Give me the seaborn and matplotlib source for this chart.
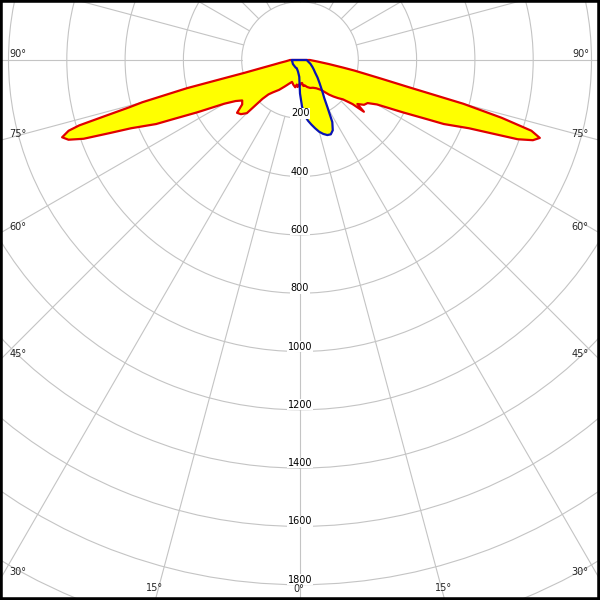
import numpy as np
import matplotlib
matplotlib.use("Agg")
import matplotlib.pyplot as plt
import seaborn as sns
from matplotlib.patches import Rectangle

# ---- data (candela values) ----
c0_angles = [-90, -85, -82, -80, -79, -78, -77, -76.5, -76, -75, -74.5, -74, -73.5, -73, -72,
             -71, -70, -69, -68, -66, -65, -63, -60, -57.5, -55, -52.5, -50, -47.5, -45, -44,
             -42.5, -40, -35, -30, -27.5, -25, -20, -15, -10, -7.5, -5, -2.5, 0, 2.5, 5, 7.5,
             10, 15, 20, 25, 30, 35, 40, 42.5, 45, 47.5, 50, 51, 52.5, 55, 57.5, 60, 63, 65,
             66, 68, 69, 70, 71, 72, 73, 74, 75, 76, 77, 78, 79, 80, 82, 85, 90]
c0_values = [34, 48, 69, 92, 112, 143, 195, 265, 400, 560, 610, 690, 790, 830, 858,
             840, 790, 700, 625, 540, 480, 395, 300, 262, 242, 250, 282, 275, 258, 185,
             160, 145, 125, 105, 97, 90, 80, 88, 95, 85, 93, 84, 88, 80, 79, 90,
             88, 96, 102, 105, 112, 125, 155, 170, 185, 200, 235, 282, 248, 268, 275, 305, 395, 480,
             540, 625, 700, 795, 845, 865, 830, 720, 580, 380, 290, 230, 190, 150, 100, 60, 34]

c90_angles = [-90, -60, -30, -22.5, -15, -10, -5, -2.5, 0, 2.5, 5, 7.5, 10, 12.5, 15, 17.5,
              20, 22.5, 25, 27.5, 30, 32.5, 35, 40, 45, 50, 55, 60, 70, 80, 90]
c90_values = [28, 28, 30, 30, 35, 40, 50, 58, 115, 160, 192, 210, 225, 240, 255, 266,
              274, 276, 266, 240, 190, 155, 135, 105, 85, 68, 58, 50, 38, 28, 23]

ring_values = [200, 400, 600, 800, 1000, 1200, 1400, 1600, 1800]
angle_labels = ["90°", "75°", "60°", "45°", "30°", "15°", "0°"]

# ---- figure / axes geometry ----
W = H = 600
cx, cy = 300, 60           # pole position in pixels (from top-left)
px_per_unit = 58.3 / 200
rmax = 2200
R = rmax * px_per_unit

sns.set_style("white")
plt.rcParams['font.family'] = ['DejaVu Sans']

fig = plt.figure(figsize=(6, 6), dpi=100)
fig.patch.set_facecolor("white")
left = cx / W - R / W
bottom = (H - cy) / H - R / H
ax = fig.add_axes([left, bottom, 2 * R / W, 2 * R / H], projection="polar")
ax.set_theta_zero_location("S")
ax.set_theta_direction(1)
ax.set_ylim(0, rmax)
ax.spines["polar"].set_visible(False)
ax.set_facecolor("white")

grid_col = "#c4c4c4"
ax.set_xticks([])
ax.set_yticks(list(range(200, rmax + 1, 200)))
ax.set_yticklabels([])
ax.yaxis.grid(True, color=grid_col, lw=0.8)
ax.xaxis.grid(False)

for a in range(0, 360, 15):
    t = np.deg2rad(a)
    ax.plot([t, t], [200, rmax], color=grid_col, lw=0.8, zorder=1)

# ---- curves ----
t0 = np.deg2rad(np.array(c0_angles, dtype=float))
r0 = np.array(c0_values, dtype=float)
t9 = np.deg2rad(np.array(c90_angles, dtype=float))
r9 = np.array(c90_values, dtype=float)

ax.fill(t0, r0, color="#ffff00", zorder=2, lw=0)
ax.fill(t9, r9, color="#ffff00", zorder=2, lw=0)

t0c = np.append(t0, t0[0]); r0c = np.append(r0, r0[0])
t9c = np.append(t9, t9[0]); r9c = np.append(r9, r9[0])
sns.lineplot(x=t0c, y=r0c, ax=ax, sort=False, estimator=None, color="#e00000", lw=1.6, zorder=3)
sns.lineplot(x=t9c, y=r9c, ax=ax, sort=False, estimator=None, color="#0a14b4", lw=1.6, zorder=4)
ax.set_xlabel("")
ax.set_ylabel("")

# ring labels
for v in ring_values:
    ax.text(0, v, str(v), ha="center", va="bottom", fontsize=7, color="black", zorder=5,
            bbox=dict(facecolor="white", edgecolor="none", pad=0.3))

# angle labels at the frame edges
lab_pos_left = [(18, 54), (18, 134), (18, 227), (18, 354), (18, 572), (155, 588)]
lab_pos_right = [(581, 54), (580, 134), (580, 227), (580, 354), (580, 572), (444, 588)]
for s, (x, y) in zip(angle_labels[:-1], lab_pos_left):
    fig.text(x / W, 1 - y / H, s, ha="center", va="center", fontsize=7)
for s, (x, y) in zip(angle_labels[:-1], lab_pos_right):
    fig.text(x / W, 1 - y / H, s, ha="center", va="center", fontsize=7)
fig.text(299 / W, 1 - 589 / H, angle_labels[-1], ha="center", va="center", fontsize=7)

fig.patches.append(Rectangle((0, 0), 1, 1, transform=fig.transFigure, fill=False,
                             edgecolor="black", lw=4, zorder=10))

fig.savefig("out.png", dpi=100, facecolor="white")
